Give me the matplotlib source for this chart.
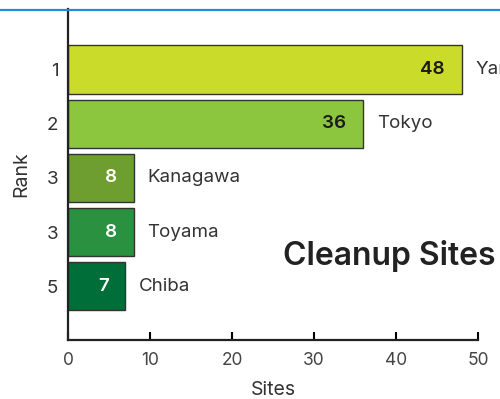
import matplotlib.pyplot as plt
from matplotlib.lines import Line2D

plt.rcParams['font.family'] = ['Inter', 'DejaVu Sans']

prefectures = ["Yamagata", "Tokyo", "Kanagawa", "Toyama", "Chiba"]
ranks = ["1", "2", "3", "3", "5"]
sites = [48, 36, 8, 8, 7]
colors = ["#cbdb2a", "#8cc63f", "#6e9e30", "#2a9140", "#006e38"]
value_colors = ["#1a1a1a", "#1a1a1a", "white", "white", "white"]

fig = plt.figure(figsize=(5, 3.99), dpi=100)
ax = fig.add_axes([0.136, 0.148, 0.82, 0.83])

pos = list(range(len(sites)))
ax.barh(pos, sites, height=0.89, color=colors, edgecolor="#333333", linewidth=1)

for i, v in enumerate(sites):
    ax.annotate(str(v), (v, i), xytext=(-12, 0), textcoords="offset points",
                ha="right", va="center", fontsize=13.5, fontweight="semibold",
                color=value_colors[i])
    ax.annotate(prefectures[i], (v, i), xytext=(10, 0), textcoords="offset points",
                ha="left", va="center", fontsize=13.5, color="#333333",
                annotation_clip=False)

ax.set_xlim(0, 50)
ax.set_ylim(4.99, -1.12)
ax.set_yticks(pos)
ax.set_yticklabels(ranks, fontsize=13.5, color="#333333")
ax.set_xticks([0, 10, 20, 30, 40, 50])
ax.tick_params(axis="x", direction="in", length=6, width=1.5, labelsize=12.5,
               labelcolor="#444444", pad=9)
ax.tick_params(axis="y", length=0, pad=7)

ax.set_xlabel("Sites", fontsize=14, color="#333333", labelpad=8)
ax.set_ylabel("Rank", fontsize=14, color="#333333", labelpad=12)

for s in ["top", "right"]:
    ax.spines[s].set_visible(False)
for s in ["left", "bottom"]:
    ax.spines[s].set_linewidth(1.6)
    ax.spines[s].set_color("#222222")

fig.text(0.778, 0.358, "Cleanup Sites", ha="center", va="center",
         fontsize=23, fontweight="semibold", color="#222222")

fig.add_artist(Line2D([0, 1], [1 - 10 / 399, 1 - 10 / 399],
                      color="#1a8fd8", linewidth=1.6, transform=fig.transFigure))

fig.savefig("out.png", dpi=100)
